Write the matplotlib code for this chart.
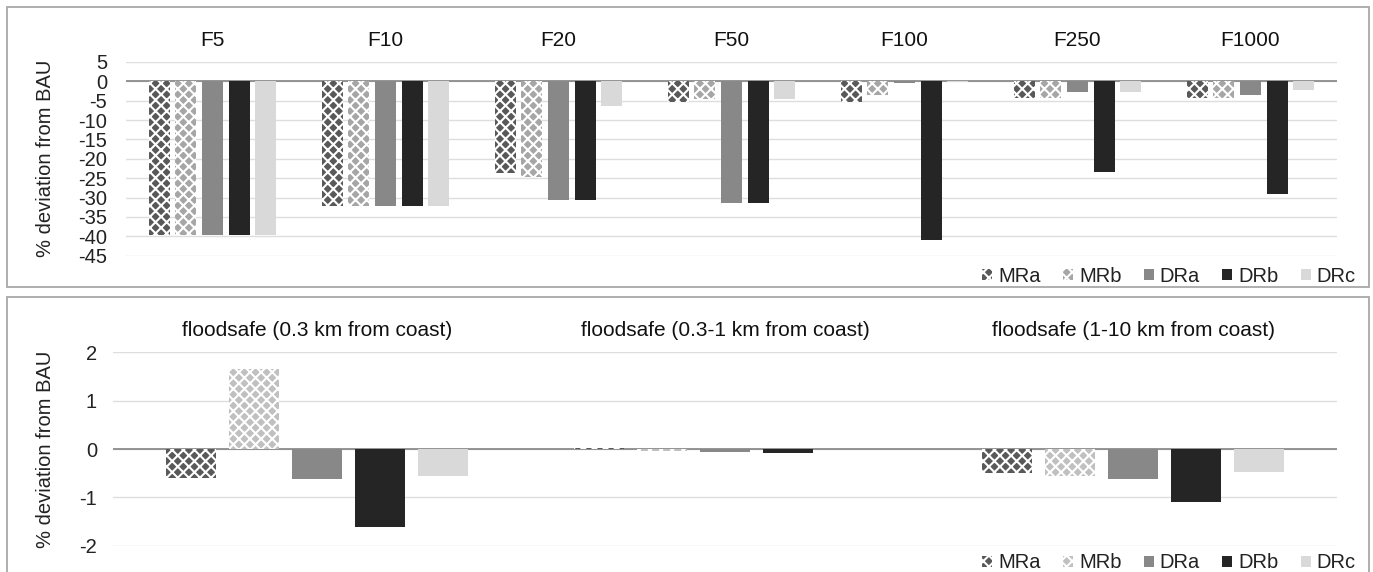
import numpy as np
import matplotlib
matplotlib.use("Agg")
import matplotlib.pyplot as plt
from matplotlib.patches import Patch, Rectangle

plt.rcParams['font.family'] = ['Liberation Sans', 'DejaVu Sans']
plt.rcParams['axes.unicode_minus'] = False
plt.rcParams['hatch.linewidth'] = 1.5

# Series and styles
series = ['MRa', 'MRb', 'DRa', 'DRb', 'DRc']
colors_top = ['#595959', '#a6a6a6', '#888888', '#252525', '#d9d9d9']
colors_bot = ['#595959', '#c0c0c0', '#888888', '#252525', '#d9d9d9']
hatches = ['xxx', 'xxx', None, None, None]

# Top panel: flood events
flood_cats = ['F5', 'F10', 'F20', 'F50', 'F100', 'F250', 'F1000']
mra_top = [-39.7, -32.2, -23.6, -5.2, -5.2, -4.2, -4.2]
mrb_top = [-39.7, -32.2, -24.8, -4.5, -3.4, -4.2, -4.2]
dra_top = [-39.7, -32.2, -30.5, -31.4, -0.4, -2.7, -3.4]
drb_top = [-39.7, -32.2, -30.5, -31.4, -40.9, -23.3, -29.2]
drc_top = [-39.7, -32.2, -6.4, -4.5, -0.1, -2.7, -2.3]

# Bottom panel: floodsafe zones
zone_cats = ['floodsafe (0.3 km from coast)', 'floodsafe (0.3-1 km from coast)',
             'floodsafe (1-10 km from coast)']
mra_bot = [-0.59, 0.03, -0.50]
mrb_bot = [1.66, -0.04, -0.55]
dra_bot = [-0.63, -0.07, -0.63]
drb_bot = [-1.62, -0.09, -1.10]
drc_bot = [-0.55, -0.01, -0.47]

W, H = 1373, 572
fig = plt.figure(figsize=(W / 100, H / 100), dpi=100)


def draw_panel(ax, cats, values, colors, ylim, yticks, tickpad, labelx):
    x = np.arange(len(cats))
    for i, vals in enumerate(values):
        ax.bar(x + (i - 2) * 0.154, vals, width=0.123, color=colors[i],
               hatch=hatches[i], edgecolor='white' if hatches[i] else colors[i],
               linewidth=0, zorder=2)
    ax.axhline(0, color='#8c8c8c', lw=1.3, zorder=1.5)
    ax.set_xlim(-0.5, len(cats) - 0.5)
    ax.set_ylim(*ylim)
    ax.set_yticks(yticks)
    ax.set_yticklabels([str(t) for t in yticks])
    ax.set_axisbelow(True)
    ax.yaxis.grid(True, color='#dedede', lw=1)
    for s in ax.spines.values():
        s.set_visible(False)
    ax.xaxis.tick_top()
    ax.set_xticks(x)
    ax.set_xticklabels(cats, fontsize=15, color='#111111')
    ax.tick_params(axis='x', length=0, pad=9)
    ax.tick_params(axis='y', length=0, pad=tickpad, labelsize=14.5, labelcolor='#222222')
    ax.set_ylabel('% deviation from BAU', fontsize=14.5, color='#222222')
    ax.yaxis.set_label_coords(labelx, 0.5)


ax1 = fig.add_axes([126 / W, 1 - 255.7 / H, (1337 - 126) / W, (255.7 - 62) / H])
draw_panel(ax1, flood_cats, [mra_top, mrb_top, dra_top, drb_top, drc_top], colors_top,
           (-45, 5), list(range(5, -50, -5)), 13.5, (55 - 126) / (1337 - 126))

ax2 = fig.add_axes([113 / W, 1 - 545.7 / H, (1337 - 113) / W, (545.7 - 352.3) / H])
draw_panel(ax2, zone_cats, [mra_bot, mrb_bot, dra_bot, drb_bot, drc_bot], colors_bot,
           (-2, 2), [2, 1, 0, -1, -2], 11.5, (55 - 113) / (1337 - 113))

# legends
for colors, yc in [(colors_top, 276), (colors_bot, 563)]:
    handles = [Patch(facecolor=colors[i], hatch=hatches[i],
                     edgecolor='white' if hatches[i] else colors[i], linewidth=0,
                     label=series[i]) for i in range(5)]
    fig.legend(handles=handles, loc='center right', bbox_to_anchor=(1356 / W, 1 - yc / H),
               ncol=5, frameon=False, fontsize=14.5, handlelength=0.5, handleheight=0.5,
               handletextpad=0.3, columnspacing=1.1, borderpad=0, borderaxespad=0,
               labelcolor='#222222')

# panel borders
fig.add_artist(Rectangle((7 / W, 1 - 287 / H), (1369 - 7) / W, (287 - 7) / H,
                         transform=fig.transFigure, fill=False, edgecolor='#a8a8a8', lw=1.3))
fig.add_artist(Rectangle((7 / W, -0.05), (1369 - 7) / W, 1 - 297 / H + 0.05,
                         transform=fig.transFigure, fill=False, edgecolor='#a8a8a8', lw=1.3))

fig.savefig('out.png', dpi=100)
